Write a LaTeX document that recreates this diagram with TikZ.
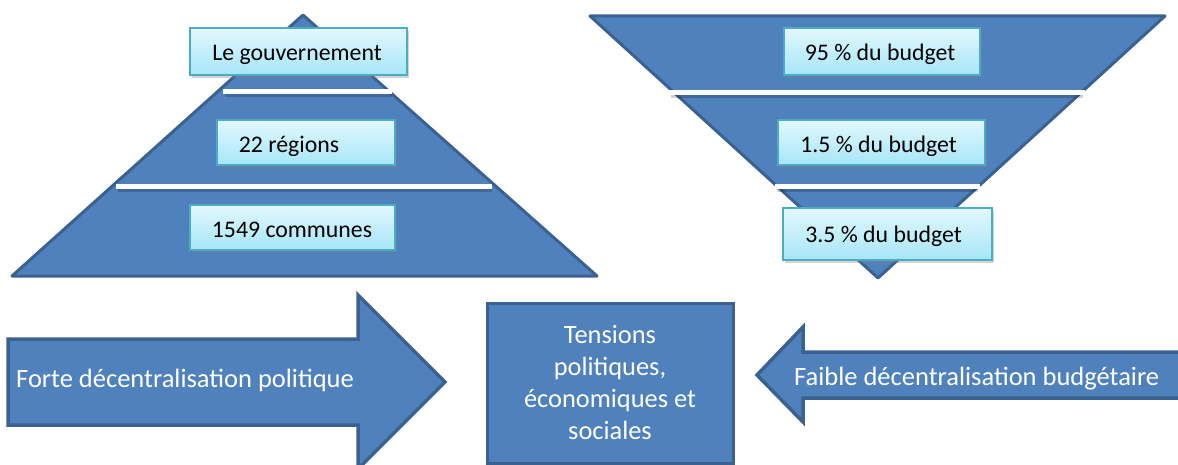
\documentclass[tikz,border=0pt]{standalone}
\usepackage{fontspec}
\setmainfont{Carlito}
\usetikzlibrary{shadows}
\definecolor{bfill}{HTML}{4F81BD}
\definecolor{bdraw}{HTML}{3B6190}
\definecolor{cyanT}{HTML}{E2F8FE}
\definecolor{cyanB}{HTML}{A6E6F8}
\definecolor{cyanD}{HTML}{4BACC6}
\tikzset{
 shapeblue/.style={fill=bfill, draw=bdraw, line width=3pt, line join=round},
 arrowblue/.style={fill=bfill, draw=bdraw, line width=3.5pt, line join=miter},
 sepline/.style={draw=white, line width=5pt},
 sepshadow/.style={draw=black, opacity=0.18, line width=3pt},
 lvlbox/.style={draw=cyanD, line width=1.6pt, top color=cyanT, bottom color=cyanB,
   drop shadow={opacity=0.35, shadow xshift=1.5pt, shadow yshift=-3pt}, inner sep=0pt},
 lvltext/.style={font=\fontsize{23.8}{28}\selectfont, text=black, inner sep=0pt, anchor=base},
 arrtext/.style={font=\fontsize{26.5}{32}\selectfont, text=white, inner sep=0pt},
 centerbox/.style={fill=bfill, draw=bdraw, line width=3pt, inner sep=0pt, align=center,
   font=\fontsize{26.4}{32}\selectfont, text=white},
}
\begin{document}
\begin{tikzpicture}[x=1pt,y=-1pt]
\useasboundingbox (0,0) rectangle (1178,465);
% left pyramid
\draw[shapeblue] (303,15) -- (597,276) -- (12,276) -- cycle;
\draw[sepshadow] (225,96) -- (392,96);
\draw[sepline] (223,92) -- (392,92);
\draw[sepshadow] (118,191) -- (492,191);
\draw[sepline] (116,187) -- (492,187);
% right inverted pyramid
\draw[shapeblue] (590,16) -- (1165,16) -- (878,278) -- cycle;
\draw[sepshadow] (671,97) -- (1083,97);
\draw[sepline] (669,93) -- (1085,93);
\draw[sepshadow] (777,191) -- (978,191);
\draw[sepline] (775,187) -- (980,187);
% level boxes (left)
\node[lvlbox, minimum width=217pt, minimum height=47pt] (gov) at (298.5,51.5) {};
\node[lvltext] (govt) at (297,61) {Le gouvernement};
\node[lvlbox, minimum width=178pt, minimum height=45pt] (reg) at (306,142.5) {};
\begin{scope}
\clip (217,120) rectangle (395,155.5);
\node[lvltext] (regt) at (289,153) {22 régions};
\end{scope}
\node[lvlbox, minimum width=205pt, minimum height=45pt] (com) at (292.5,227.5) {};
\node[lvltext] (comt) at (292,238) {1549 communes};
% level boxes (right)
\node[lvlbox, minimum width=196pt, minimum height=47pt] (b95) at (882,51.5) {};
\node[lvltext] (b95t) at (880,61) {95 \% du budget};
\node[lvlbox, minimum width=207pt, minimum height=45pt] (b15) at (881.5,142.5) {};
\begin{scope}
\clip (778,120) rectangle (985,155.5);
\node[lvltext] (b15t) at (878.5,153) {1.5 \% du budget};
\end{scope}
\node[lvlbox, minimum width=209pt, minimum height=52pt] (b35) at (887.5,234) {};
\node[lvltext] (b35t) at (883.5,243) {3.5 \% du budget};
% bottom arrows
\draw[arrowblue] (8,339) -- (358,339) -- (358,295) -- (445,382) -- (358,469) -- (358,425) -- (8,425) -- cycle;
\node[arrtext, anchor=base west] (fdp) at (16,387) {Forte décentralisation politique};
\draw[arrowblue] (757,375) -- (803,327) -- (803,352) -- (1190,352) -- (1190,398) -- (803,398) -- (803,422) -- cycle;
\node[arrtext, anchor=base west] (fdb) at (794,385) {Faible décentralisation budgétaire};
% center box
\node[centerbox, minimum width=246pt, minimum height=160pt] (tens) at (610,383)
  {Tensions\\politiques,\\économiques et\\sociales};
\end{tikzpicture}
\end{document}
